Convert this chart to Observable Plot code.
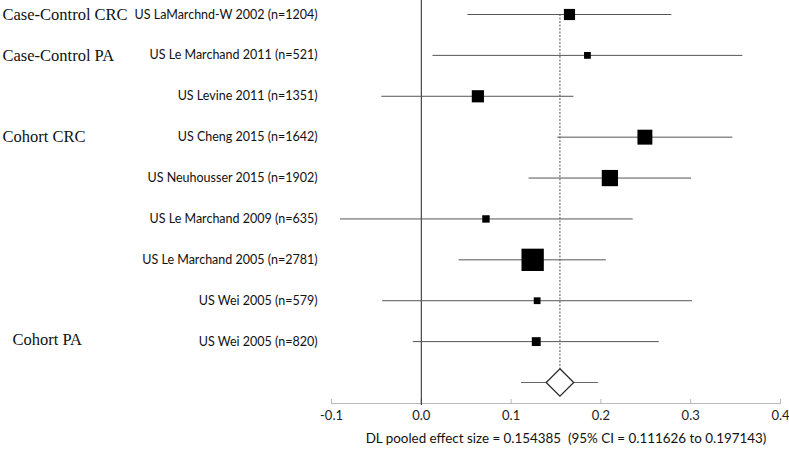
<!DOCTYPE html>
<html><head><meta charset="utf-8">
<script src="https://cdn.jsdelivr.net/npm/d3@7"></script>
<script src="https://cdn.jsdelivr.net/npm/@observablehq/plot@0.6"></script>
<style>
body{margin:0;background:#fff}
svg{display:block}
text{white-space:pre}
</style>
</head><body><div id="chart"></div>
<script>
const studies = [
  "US LaMarchnd-W 2002 (n=1204)",
  "US Le Marchand 2011 (n=521)",
  "US Levine 2011 (n=1351)",
  "US Cheng 2015 (n=1642)",
  "US Neuhousser 2015 (n=1902)",
  "US Le Marchand 2009 (n=635)",
  "US Le Marchand 2005 (n=2781)",
  "US Wei 2005 (n=579)",
  "US Wei 2005 (n=820)"
];
const estimates = [0.165, 0.185, 0.063, 0.249, 0.210, 0.072, 0.124, 0.129, 0.128];
const lowerCI   = [0.052, 0.013, -0.044, 0.152, 0.120, -0.090, 0.042, -0.043, -0.009];
const upperCI   = [0.279, 0.358, 0.170, 0.347, 0.301, 0.236, 0.206, 0.302, 0.265];
const weights   = [8.4, 3.1, 10.0, 15.0, 17.8, 3.7, 33.6, 3.1, 5.3];
const groups = ["Case-Control CRC", "Case-Control PA", "Cohort CRC", "Cohort PA"];
const groupRows = [0, 1, 3, 8];
const pooledEst = 0.154385, pooledLo = 0.111626, pooledHi = 0.197143;
const xTicks = [-0.1, 0, 0.1, 0.2, 0.3, 0.4];
const xTickLabels = ["-0.1", "0.0", "0.1", "0.2", "0.3", "0.4"];
const caption = "DL pooled effect size = 0.154385  (95% CI = 0.111626 to 0.197143)";

const rows = studies.map((s, i) => ({study: s, row: i, est: estimates[i], lo: lowerCI[i], hi: upperCI[i], w: weights[i]}));
const pooledRow = studies.length;
const pooled = [{row: pooledRow, est: pooledEst, lo: pooledLo, hi: pooledHi}];
const grp = groups.map((g, i) => ({g, row: groupRows[i]}));

const sans = "Lato, 'Open Sans', sans-serif";
const serif = "'Liberation Serif', 'DejaVu Serif', serif";

const chart = Plot.plot({
  width: 789,
  height: 460,
  marginLeft: 331,
  marginRight: 9,
  marginTop: 0,
  marginBottom: 57,
  style: {fontFamily: sans, background: "#fff", color: "#222"},
  x: {domain: [-0.1, 0.4]},
  y: {domain: [0, pooledRow], range: [14, 382], axis: null},
  r: {type: "sqrt", domain: [0, d3.max(weights)], range: [0, 12.6]},
  marks: [
    Plot.frame({anchor: "bottom", stroke: "#b8b8b8"}),
    Plot.axisX({ticks: xTicks, tickFormat: () => "", tickSize: -4, stroke: "#b8b8b8", label: null}),
    Plot.axisX({ticks: xTicks, tickFormat: (d) => xTickLabels[xTicks.indexOf(d)], tickSize: 0, tickPadding: 7, fontSize: 13, fill: "#222", label: null}),
    Plot.ruleX([0], {stroke: "#222", insetBottom: -2}),
    Plot.ruleX(pooled, {x: "est", y1: () => 0, y2: "row", stroke: "#555", strokeDasharray: "2,1.5"}),
    Plot.ruleY(rows, {y: "row", x1: "lo", x2: "hi", stroke: "#555"}),
    Plot.ruleY(pooled, {y: "row", x1: "lo", x2: "hi", stroke: "#666"}),
    Plot.dot(rows, {x: "est", y: "row", r: "w", symbol: "square", fill: "#000"}),
    Plot.dot(pooled, {x: "est", y: "row", r: 12.4, symbol: "diamond2", stroke: "#222", strokeWidth: 1.2, fill: "#fff"}),
    Plot.text(rows, {y: "row", text: "study", frameAnchor: "left", textAnchor: "end", dx: -14, fontSize: 12.5, fill: "#111"}),
    Plot.text(grp.slice(0, 3), {y: "row", text: "g", frameAnchor: "left", textAnchor: "start", dx: -329, fontSize: 16.5, fontFamily: serif, fill: "#111"}),
    Plot.text(grp.slice(3), {y: "row", text: "g", frameAnchor: "left", textAnchor: "start", dx: -319, dy: -2, fontSize: 16.5, fontFamily: serif, fill: "#111"}),
    Plot.text([caption], {frameAnchor: "bottom", dx: 10, dy: 39, fontSize: 13.4, fill: "#111"})
  ]
});
document.getElementById("chart").appendChild(chart);
</script>
</body></html>
